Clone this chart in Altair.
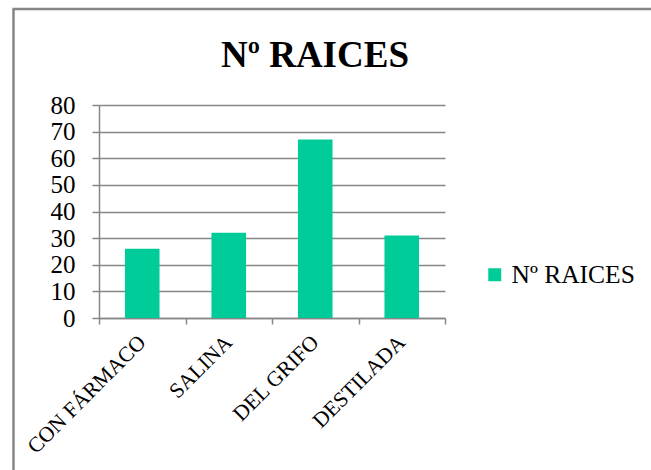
import altair as alt
import pandas as pd

categories = ["CON FÁRMACO", "SALINA", "DEL GRIFO", "DESTILADA"]
values = [26, 32, 67, 31]
series_name = "Nº RAICES"
chart_title = "Nº RAICES"

df = pd.DataFrame({"cat": categories, "val": values, "serie": [series_name] * len(categories)})

W, H = 346, 213
GRAY = "#868686"
FONT = "Times New Roman, Liberation Serif, serif"

bars = alt.Chart(df).mark_bar(width=alt.RelativeBandSize(0.4)).encode(
    x=alt.X("cat:N", sort=categories,
            scale=alt.Scale(paddingInner=0, paddingOuter=0),
            axis=alt.Axis(title=None, labelAngle=-45, labelAlign="right", labelBaseline="middle",
                          labelFont=FONT, labelFontSize=21.5, labelColor="black", labelPadding=15,
                          tickBand="extent", tickSize=6, tickColor=GRAY, tickWidth=1.5,
                          domainColor=GRAY, domainWidth=1.5, grid=False)),
    y=alt.Y("val:Q", scale=alt.Scale(domain=[0, 80], nice=False),
            axis=alt.Axis(title=None, values=list(range(0, 81, 10)), labelFont=FONT, labelFontSize=25,
                          labelColor="black", labelPadding=17, tickSize=7, tickColor=GRAY, tickWidth=1.5,
                          domainColor=GRAY, domainWidth=1.5, gridColor=GRAY, gridWidth=1.5)),
    color=alt.Color("serie:N", scale=alt.Scale(range=["#00CC99"]),
                    legend=alt.Legend(title=None, orient="none", legendX=383, legendY=157,
                                      symbolType="square", symbolSize=169, symbolStrokeWidth=0,
                                      labelFont=FONT, labelFontSize=25.5, labelColor="black",
                                      labelOffset=4)),
)

one = alt.Data(values=[{"t": chart_title}])
title = alt.Chart(one).mark_text(font=FONT, fontSize=37, fontWeight="bold", baseline="alphabetic",
                                 align="center", color="black").encode(
    text="t:N", x=alt.value(216), y=alt.value(-38))

left_border = alt.Chart(one).mark_rule(color=GRAY, strokeWidth=2.5).encode(
    x=alt.value(-85.5), y=alt.value(-96), y2=alt.value(370))
top_border = alt.Chart(one).mark_rule(color=GRAY, strokeWidth=2.5).encode(
    x=alt.value(-86.5), x2=alt.value(560), y=alt.value(-96))

chart = alt.layer(bars, title, left_border, top_border).properties(
    width=W, height=H,
    autosize=alt.AutoSizeParams(type="none"),
    padding={"left": 99, "top": 105, "right": 651 - 99 - W, "bottom": 470 - 105 - H},
).configure(background="white", font=FONT).configure_view(stroke=None).configure_axis(
    labelFont=FONT).configure_legend(labelFont=FONT)

chart.save("out.html", embed_options={"renderer": "svg", "actions": False})
